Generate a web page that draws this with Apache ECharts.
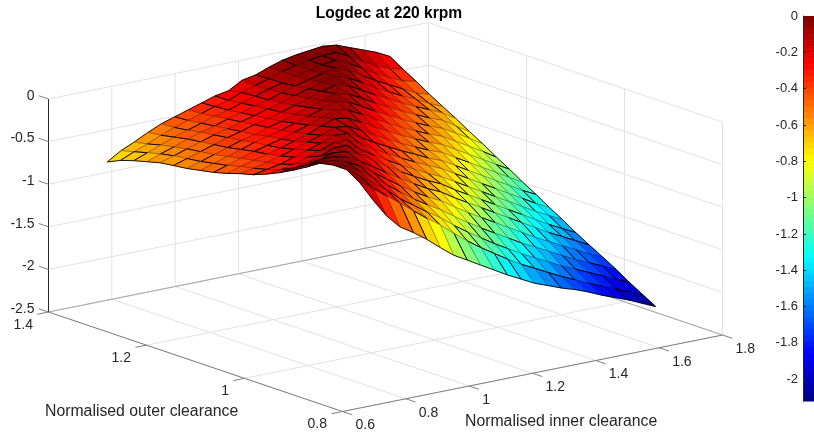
<!DOCTYPE html>
<html>
<head>
<meta charset="utf-8">
<style>
  html, body { margin: 0; padding: 0; background: #fff; }
  #chart { width: 814px; height: 433px; }
</style>
<script src="https://cdn.jsdelivr.net/npm/echarts@6/dist/echarts.min.js"></script>
</head>
<body>
<div id="chart"></div>
<script>
const chartTitle = 'Logdec at 220 krpm';
const innerName = 'Normalised inner clearance';
const outerName = 'Normalised outer clearance';

const innerTicks = [0.6, 0.8, 1, 1.2, 1.4, 1.6, 1.8];
const outerTicks = [0.8, 1, 1.2, 1.4];
const zTicks = [-2.5, -2, -1.5, -1, -0.5, 0];
const barTicks = [0, -0.2, -0.4, -0.6, -0.8, -1, -1.2, -1.4, -1.6, -1.8, -2];

// mesh positions
const innerValues = [0.747, 0.79, 0.832, 0.875, 0.917, 0.96, 1.002, 1.045, 1.087, 1.13, 1.172, 1.215, 1.257, 1.3, 1.342, 1.385, 1.427, 1.47, 1.512, 1.555, 1.597, 1.64];
const outerValues = [1.375, 1.348, 1.321, 1.294, 1.267, 1.24, 1.212, 1.185, 1.158, 1.131, 1.104, 1.077, 1.05, 1.023, 0.996, 0.969, 0.941, 0.914, 0.887, 0.86, 0.833];

// logdec, one row per outer clearance, one column per inner clearance
const logdec = [
  [-0.80, -0.70, -0.63, -0.55, -0.48, -0.43, -0.38, -0.33, -0.28, -0.25, -0.16, -0.13, -0.07, -0.02, 0.01, 0.03, 0.05, 0.03, -0.03, -0.09, -0.15, -0.23],
  [-0.73, -0.66, -0.60, -0.53, -0.47, -0.42, -0.37, -0.32, -0.28, -0.22, -0.17, -0.12, -0.07, -0.03, 0.00, 0.02, 0.03, -0.05, -0.14, -0.23, -0.29, -0.33],
  [-0.68, -0.62, -0.56, -0.50, -0.45, -0.40, -0.35, -0.31, -0.26, -0.21, -0.16, -0.12, -0.07, -0.03, 0.00, 0.02, -0.05, -0.14, -0.23, -0.31, -0.38, -0.42],
  [-0.64, -0.58, -0.53, -0.47, -0.42, -0.38, -0.33, -0.29, -0.24, -0.20, -0.15, -0.10, -0.06, -0.02, 0.01, -0.05, -0.14, -0.23, -0.31, -0.39, -0.47, -0.52],
  [-0.60, -0.55, -0.50, -0.45, -0.40, -0.36, -0.31, -0.27, -0.22, -0.18, -0.13, -0.08, -0.04, 0.00, -0.05, -0.14, -0.23, -0.31, -0.39, -0.46, -0.54, -0.61],
  [-0.58, -0.53, -0.48, -0.43, -0.38, -0.34, -0.29, -0.25, -0.21, -0.16, -0.11, -0.06, -0.02, -0.06, -0.14, -0.23, -0.31, -0.39, -0.46, -0.53, -0.60, -0.70],
  [-0.56, -0.51, -0.46, -0.41, -0.36, -0.32, -0.27, -0.23, -0.18, -0.13, -0.08, -0.03, -0.07, -0.15, -0.24, -0.32, -0.40, -0.47, -0.54, -0.60, -0.70, -0.80],
  [-0.53, -0.48, -0.43, -0.38, -0.33, -0.29, -0.25, -0.20, -0.15, -0.10, -0.04, -0.08, -0.16, -0.25, -0.33, -0.41, -0.48, -0.55, -0.61, -0.70, -0.79, -0.89],
  [-0.50, -0.45, -0.40, -0.35, -0.31, -0.27, -0.22, -0.17, -0.11, -0.05, -0.09, -0.17, -0.26, -0.34, -0.42, -0.49, -0.56, -0.62, -0.71, -0.80, -0.89, -0.99],
  [-0.46, -0.41, -0.37, -0.33, -0.29, -0.24, -0.19, -0.13, -0.07, -0.10, -0.18, -0.27, -0.35, -0.43, -0.50, -0.57, -0.63, -0.72, -0.81, -0.90, -0.99, -1.08],
  [-0.41, -0.38, -0.34, -0.30, -0.25, -0.20, -0.15, -0.09, -0.11, -0.19, -0.28, -0.36, -0.44, -0.51, -0.58, -0.64, -0.73, -0.82, -0.91, -1.00, -1.09, -1.18],
  [-0.37, -0.34, -0.31, -0.26, -0.21, -0.16, -0.10, -0.11, -0.19, -0.28, -0.36, -0.44, -0.51, -0.59, -0.65, -0.74, -0.83, -0.92, -1.01, -1.10, -1.19, -1.27],
  [-0.31, -0.29, -0.26, -0.21, -0.16, -0.10, -0.10, -0.18, -0.28, -0.36, -0.44, -0.52, -0.59, -0.66, -0.75, -0.84, -0.93, -1.02, -1.11, -1.20, -1.29, -1.37],
  [-0.24, -0.22, -0.19, -0.14, -0.08, -0.08, -0.16, -0.26, -0.35, -0.44, -0.52, -0.60, -0.67, -0.76, -0.85, -0.94, -1.03, -1.12, -1.21, -1.30, -1.38, -1.46],
  [-0.16, -0.13, -0.10, -0.05, -0.07, -0.14, -0.24, -0.34, -0.43, -0.52, -0.60, -0.67, -0.77, -0.86, -0.95, -1.04, -1.13, -1.22, -1.31, -1.40, -1.48, -1.56],
  [-0.07, -0.04, -0.01, -0.05, -0.13, -0.23, -0.33, -0.43, -0.52, -0.61, -0.68, -0.78, -0.87, -0.96, -1.05, -1.14, -1.23, -1.32, -1.41, -1.49, -1.57, -1.65],
  [0.03, 0.03, -0.02, -0.10, -0.21, -0.32, -0.43, -0.53, -0.62, -0.70, -0.80, -0.90, -0.99, -1.08, -1.17, -1.26, -1.35, -1.43, -1.51, -1.59, -1.67, -1.74],
  [0.06, 0.01, -0.08, -0.19, -0.30, -0.42, -0.53, -0.63, -0.72, -0.83, -0.93, -1.03, -1.12, -1.21, -1.30, -1.38, -1.46, -1.54, -1.62, -1.69, -1.76, -1.83],
  [0.06, -0.05, -0.17, -0.28, -0.41, -0.52, -0.63, -0.73, -0.85, -0.96, -1.06, -1.16, -1.25, -1.34, -1.42, -1.50, -1.58, -1.65, -1.72, -1.79, -1.86, -1.93],
  [-0.04, -0.14, -0.26, -0.38, -0.50, -0.62, -0.73, -0.86, -0.98, -1.09, -1.19, -1.29, -1.38, -1.46, -1.54, -1.62, -1.69, -1.76, -1.83, -1.89, -1.96, -2.02],
  [-0.19, -0.41, -0.57, -0.67, -0.78, -0.91, -1.03, -1.12, -1.21, -1.30, -1.39, -1.47, -1.55, -1.61, -1.67, -1.72, -1.78, -1.85, -1.91, -1.97, -2.04, -2.11]
];

const colorMin = -2.12;
const colorMax = 0;
const colorLevels = 64;
const fontName = '"Liberation Sans", Arial, sans-serif';
const textColor = '#262626';

// MATLAB jet, t in 0..1
function jet(t) {
  const ramp = (v) => Math.round(255 * Math.max(0, Math.min(1, v)));
  return 'rgb(' + ramp(1.5 - Math.abs(4 * t - 3)) + ',' + ramp(1.5 - Math.abs(4 * t - 2)) + ',' + ramp(1.5 - Math.abs(4 * t - 1)) + ')';
}

function colorOf(z) {
  let t = (z - colorMin) / (colorMax - colorMin);
  t = Math.max(0, Math.min(0.9999, t));
  return jet((Math.floor(t * colorLevels) + 0.5) / colorLevels);
}

// the 3d box seen by the fixed MATLAB camera, result is in page pixels
function project(inner, outer, z) {
  const du = (inner - 0.6) / 1.2;
  const dv = (outer - 0.8) / 0.6;
  const dz = (z + 2.5) / 2.5;
  return [342.5 + 380 * du - 294 * dv, 411.5 - 76.5 * du - 99.5 * dv - 213 * dz];
}

// box lines: [inner, outer, z, inner, outer, z, kind]
const boxLines = [];
const zLow = zTicks[0], zTop = zTicks[zTicks.length - 1];
innerTicks.forEach((v) => {
  boxLines.push([v, 1.4, zLow, v, 1.4, zTop, 'grid']);
  boxLines.push([v, 0.8, zLow, v, 1.4, zLow, 'grid']);
});
outerTicks.forEach((v) => {
  boxLines.push([1.8, v, zLow, 1.8, v, zTop, 'grid']);
  boxLines.push([0.6, v, zLow, 1.8, v, zLow, 'grid']);
});
zTicks.forEach((v) => {
  boxLines.push([0.6, 1.4, v, 1.8, 1.4, v, 'grid']);
  boxLines.push([1.8, 1.4, v, 1.8, 0.8, v, 'grid']);
});
boxLines.push([0.6, 1.4, zLow, 1.8, 1.4, zLow, 'edge']);
boxLines.push([1.8, 1.4, zLow, 1.8, 0.8, zLow, 'edge']);
boxLines.push([0.6, 1.4, zLow, 0.6, 0.8, zLow, 'axis']);
boxLines.push([0.6, 0.8, zLow, 1.8, 0.8, zLow, 'axis']);
boxLines.push([0.6, 1.4, zLow, 0.6, 1.4, zTop, 'zaxis']);
// tick marks
zTicks.forEach((v) => boxLines.push([0.6, 1.4, v, 0.6, 1.42, v, 'tick']));
outerTicks.forEach((v) => boxLines.push([0.6, v, zLow, 0.565, v, zLow, 'tick']));
innerTicks.forEach((v) => boxLines.push([v, 0.8, zLow, v, 0.78, zLow, 'tick']));

const lineStyles = {
  grid: { stroke: '#e2e2e2', lineWidth: 1 },
  edge: { stroke: '#a8a8a8', lineWidth: 1 },
  axis: { stroke: '#808080', lineWidth: 1 },
  zaxis: { stroke: '#262626', lineWidth: 1 },
  tick: { stroke: '#808080', lineWidth: 1 }
};

// tick labels: [text, inner, outer, z, dx, dy, align]
const axisLabels = [];
zTicks.forEach((v) => axisLabels.push([String(v), 0.6, 1.4, v, -14, -3, 'right']));
outerTicks.forEach((v) => axisLabels.push([String(v), 0.6, v, zLow, -15.5, 13, 'right']));
innerTicks.forEach((v) => axisLabels.push([String(v), v, 0.8, zLow, 13, 14, 'left']));

// far cells first so the nearer ones paint over them
const cells = [];
for (let a = innerValues.length - 2; a >= 0; a--) {
  for (let b = 0; b < outerValues.length - 1; b++) {
    cells.push([a, b]);
  }
}

const levels = [];
for (let i = 0; i < colorLevels; i++) {
  levels.push([colorMin + (i / colorLevels) * (colorMax - colorMin), colorMin + ((i + 1) / colorLevels) * (colorMax - colorMin)]);
}

// the mesh in the reference was resampled, so an edge is black or faint depending
// on where it falls on the pixel grid
function landsOnSample(p, q) {
  const mid = Math.abs(q[0] - p[0]) > Math.abs(q[1] - p[1]) ? (p[1] + q[1]) / 2 : (p[0] + q[0]) / 2;
  const phase = mid / 2 - Math.floor(mid / 2);
  return phase < 0.45;
}

const myChart = echarts.init(document.getElementById('chart'), null, { renderer: 'canvas' });

const option = {
  animation: false,
  backgroundColor: '#fff',
  title: {
    text: chartTitle,
    left: 384,
    top: 1,
    textAlign: 'center',
    textStyle: { fontFamily: fontName, fontSize: 15.6, fontWeight: 'bold', color: '#000' }
  },
  grid: [
    { left: 0, top: 0, width: 814, height: 433 },
    { left: 803, top: 16, width: 11, height: 385 }
  ],
  xAxis: [
    { type: 'value', gridIndex: 0, min: 0, max: 814, show: false },
    { type: 'value', gridIndex: 1, min: 0, max: 1, show: false }
  ],
  yAxis: [
    { type: 'value', gridIndex: 0, min: 0, max: 433, inverse: true, show: false },
    {
      type: 'value',
      gridIndex: 1,
      min: colorMin,
      max: colorMax,
      z: 5,
      splitLine: { show: false },
      axisLine: { show: true, onZero: false, lineStyle: { color: '#262626' } },
      axisTick: { show: true, inside: true, length: 3, customValues: barTicks, lineStyle: { color: '#262626' } },
      axisLabel: {
        customValues: barTicks,
        margin: 5,
        color: textColor,
        fontFamily: fontName,
        fontSize: 13,
        formatter: (v) => String(v)
      }
    }
  ],
  series: [
    {
      type: 'custom',
      name: 'box',
      xAxisIndex: 0,
      yAxisIndex: 0,
      silent: true,
      data: boxLines.map((l, i) => [i]),
      renderItem: (params, api) => {
        const l = boxLines[params.dataIndex];
        const p0 = api.coord(project(l[0], l[1], l[2]));
        const p1 = api.coord(project(l[3], l[4], l[5]));
        return {
          type: 'line',
          shape: { x1: p0[0], y1: p0[1], x2: p1[0], y2: p1[1] },
          style: lineStyles[l[6]]
        };
      }
    },
    {
      type: 'custom',
      name: 'labels',
      xAxisIndex: 0,
      yAxisIndex: 0,
      silent: true,
      data: axisLabels.map((l, i) => [i]),
      renderItem: (params, api) => {
        const l = axisLabels[params.dataIndex];
        const p = api.coord(project(l[1], l[2], l[3]));
        return {
          type: 'text',
          style: {
            x: p[0] + l[4],
            y: p[1] + l[5],
            text: l[0],
            fill: textColor,
            font: '14px ' + fontName,
            textAlign: l[6],
            textVerticalAlign: 'middle'
          }
        };
      }
    },
    {
      type: 'custom',
      name: 'surface',
      xAxisIndex: 0,
      yAxisIndex: 0,
      silent: true,
      progressive: 0,
      data: cells,
      renderItem: (params, api) => {
        const a = cells[params.dataIndex][0];
        const b = cells[params.dataIndex][1];
        const corners = [[a, b], [a + 1, b], [a + 1, b + 1], [a, b + 1]];
        let sum = 0;
        const points = corners.map((c) => {
          const z = logdec[c[1]][c[0]];
          sum += z;
          return api.coord(project(innerValues[c[0]], outerValues[c[1]], z));
        });
        const edge = (p, q, onRim) => {
          const dark = onRim || landsOnSample(p, q);
          return {
            type: 'line',
            shape: { x1: p[0], y1: p[1], x2: q[0], y2: q[1] },
            style: { stroke: dark ? 'rgba(0,0,0,0.9)' : 'rgba(0,0,0,0.38)', lineWidth: dark ? 1 : 0.8 }
          };
        };
        const lastA = innerValues.length - 2;
        const lastB = outerValues.length - 2;
        return {
          type: 'group',
          children: [
            { type: 'polygon', shape: { points: points }, style: { fill: colorOf(sum / 4), stroke: colorOf(sum / 4), lineWidth: 0.4 } },
            edge(points[0], points[1], b === 0),
            edge(points[3], points[0], a === 0),
            edge(points[1], points[2], a === lastA),
            edge(points[2], points[3], b === lastB)
          ]
        };
      }
    },
    {
      type: 'custom',
      name: 'colorbar',
      xAxisIndex: 1,
      yAxisIndex: 1,
      silent: true,
      progressive: 0,
      data: levels,
      renderItem: (params, api) => {
        const lo = api.coord([0, api.value(0)]);
        const hi = api.coord([1, api.value(1)]);
        return {
          type: 'rect',
          shape: { x: lo[0], y: hi[1], width: hi[0] - lo[0], height: lo[1] - hi[1] + 0.5 },
          style: { fill: colorOf((api.value(0) + api.value(1)) / 2) }
        };
      },
      z: 1
    }
  ],
  graphic: [
    { type: 'text', left: 45, top: 404, style: { text: outerName, fill: textColor, font: '15.8px ' + fontName } },
    { type: 'text', left: 465, top: 413.5, style: { text: innerName, fill: textColor, font: '15.8px ' + fontName } }
  ]
};

myChart.setOption(option);
window.onresize = function () {
  myChart.resize();
};
</script>
</body>
</html>
